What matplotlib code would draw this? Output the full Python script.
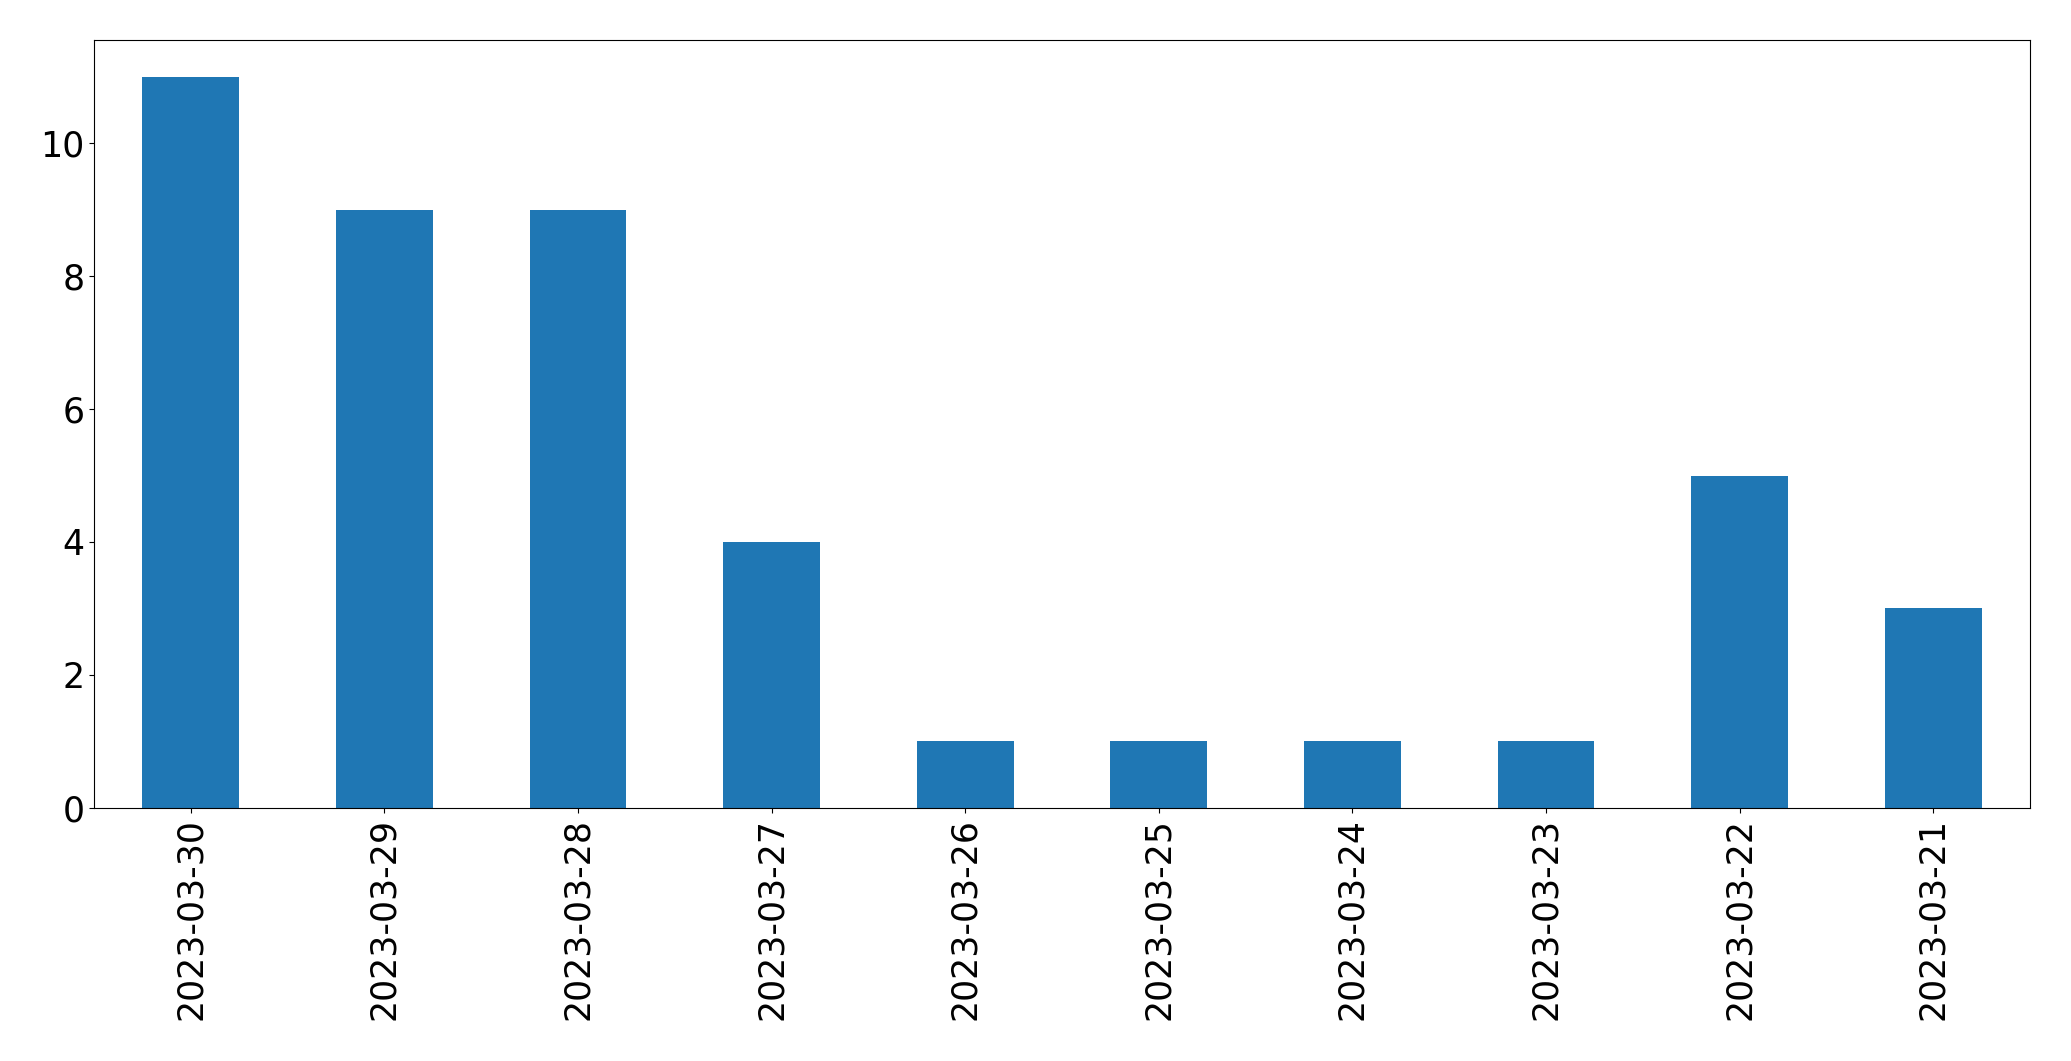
import matplotlib
matplotlib.use("Agg")
import matplotlib.pyplot as plt
import pandas as pd

dates = ["2023-03-30", "2023-03-29", "2023-03-28", "2023-03-27", "2023-03-26",
         "2023-03-25", "2023-03-24", "2023-03-23", "2023-03-22", "2023-03-21"]
counts = [11, 9, 9, 4, 1, 1, 1, 1, 5, 3]

series = pd.Series(counts, index=dates)

fig, ax = plt.subplots(figsize=(20.71, 10.61), dpi=100)
series.plot(kind="bar", ax=ax, color="#1f77b4")
ax.tick_params(axis="both", labelsize=25)
fig.subplots_adjust(left=0.0454, right=0.9802, top=0.9623, bottom=0.2385)

fig.savefig("out.png", dpi=100)
